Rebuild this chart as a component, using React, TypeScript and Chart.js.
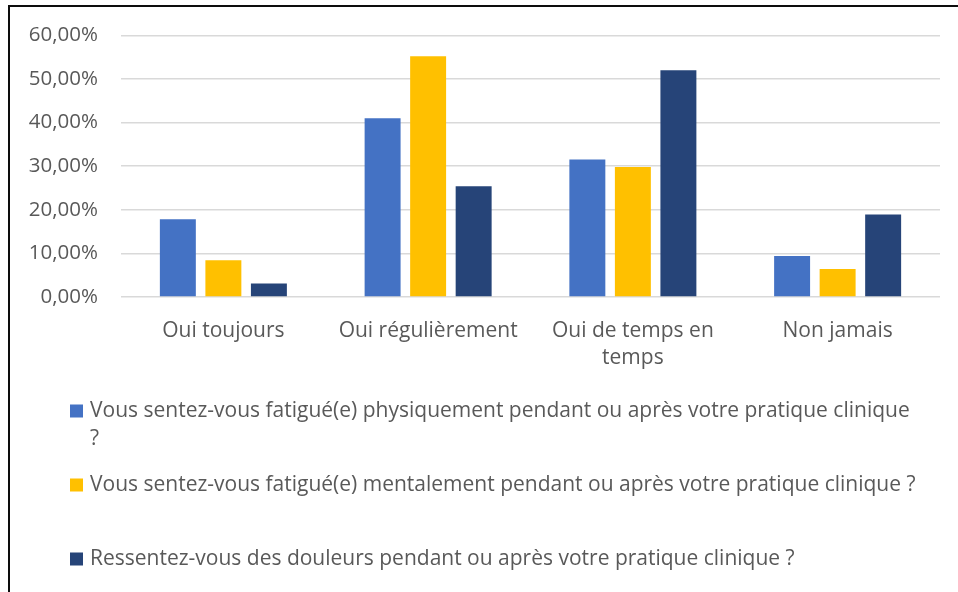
import React, { useEffect, useRef } from "react";
import { Chart, registerables } from "chart.js";

Chart.register(...registerables);

// ---- Data ----
const categories: (string | string[])[] = [
  "Oui toujours",
  "Oui régulièrement",
  ["Oui de temps en", "temps"],
  "Non jamais",
];
const seriesLabels = [
  "Vous sentez-vous fatigué(e) physiquement pendant ou après votre pratique clinique ?",
  "Vous sentez-vous fatigué(e) mentalement pendant ou après votre pratique clinique ?",
  "Ressentez-vous des douleurs pendant ou après votre pratique clinique ?",
];
const physique = [17.8, 41.0, 31.5, 9.4];
const mental = [8.4, 55.2, 29.8, 6.4];
const douleurs = [3.1, 25.4, 52.0, 18.9];
const yMin = 0;
const yMax = 60;
const yStep = 10;

// ---- Styles ----
const COLORS = ["#4472C4", "#FFC000", "#264478"];
const TEXT = "#595959";
const GRID = "#d9d9d9";
const FONT = "'Open Sans', Lato, sans-serif";
const FONT_SIZE = 21;
const Y_FONT_SIZE = 20.5;
const LEGEND_X = 70;
const LEGEND_TOP = 411;
const LEGEND_SLOT = 74;
const LEGEND_LINE = 28;
const LEGEND_MAX_W = 829;

function wrapText(ctx: CanvasRenderingContext2D, text: string, maxW: number): string[] {
  const words = text.split(" ");
  const lines: string[] = [];
  let cur = "";
  for (const w of words) {
    const test = cur ? cur + " " + w : w;
    if (ctx.measureText(test).width > maxW && cur) {
      lines.push(cur);
      cur = w;
    } else {
      cur = test;
    }
  }
  if (cur) lines.push(cur);
  return lines;
}

const legendPlugin = {
  id: "excelLegend",
  afterDraw(chart: any) {
    const ctx: CanvasRenderingContext2D = chart.ctx;
    ctx.save();
    ctx.font = `${FONT_SIZE}px ${FONT}`;
    ctx.textBaseline = "middle";
    ctx.textAlign = "left";
    chart.data.datasets.forEach((ds: any, i: number) => {
      const y0 = LEGEND_TOP + i * LEGEND_SLOT;
      ctx.fillStyle = ds.backgroundColor;
      ctx.fillRect(LEGEND_X, y0 - 6.5, 13, 13);
      ctx.fillStyle = TEXT;
      const lines = wrapText(ctx, ds.label, LEGEND_MAX_W);
      lines.forEach((ln, j) => ctx.fillText(ln, LEGEND_X + 20, y0 + j * LEGEND_LINE));
    });
    ctx.restore();
  },
};

export default function App() {
  const ref = useRef<HTMLCanvasElement | null>(null);

  useEffect(() => {
    if (!ref.current) return;
    const series = [physique, mental, douleurs];
    const chart = new Chart(ref.current, {
      type: "bar",
      data: {
        labels: categories as any,
        datasets: series.map((d, i) => ({
          label: seriesLabels[i],
          data: d,
          backgroundColor: COLORS[i],
          borderWidth: 0,
          categoryPercentage: 0.667,
          barPercentage: 0.79,
        })),
      },
      options: {
        animation: false,
        responsive: false,
        maintainAspectRatio: false,
        layout: { padding: { left: 0, right: 18, top: 35, bottom: 215 } },
        plugins: {
          legend: { display: false },
          tooltip: { enabled: false },
          title: { display: false },
        },
        scales: {
          x: {
            grid: { display: false },
            border: { display: false },
            ticks: {
              color: TEXT,
              font: { family: FONT, size: FONT_SIZE, lineHeight: 1.29 },
              padding: 12,
              maxRotation: 0,
              autoSkip: false,
            },
            afterFit: (s: any) => {
              s.height = 80;
            },
          },
          y: {
            min: yMin,
            max: yMax,
            grid: { color: GRID, lineWidth: 1.5, drawTicks: false },
            border: { display: false },
            ticks: {
              stepSize: yStep,
              color: TEXT,
              padding: 23,
              font: { family: FONT, size: Y_FONT_SIZE },
              callback: (v: any) => Number(v).toFixed(2).replace(".", ",") + "%",
            },
            afterFit: (s: any) => {
              s.width = 121;
            },
          },
        },
      },
      plugins: [legendPlugin],
    });
    return () => chart.destroy();
  }, []);

  return (
    <div
      style={{
        position: "fixed",
        left: 0,
        top: 0,
        width: 958,
        height: 592,
        overflow: "hidden",
        background: "#fff",
      }}
    >
      <div
        style={{
          position: "absolute",
          left: 8,
          top: 5,
          width: 2000,
          height: 2000,
          border: "2px solid #0d0d0d",
        }}
      />
      <canvas
        ref={ref}
        width={958}
        height={592}
        style={{ position: "absolute", left: 0, top: 0, width: 958, height: 592 }}
      />
    </div>
  );
}
